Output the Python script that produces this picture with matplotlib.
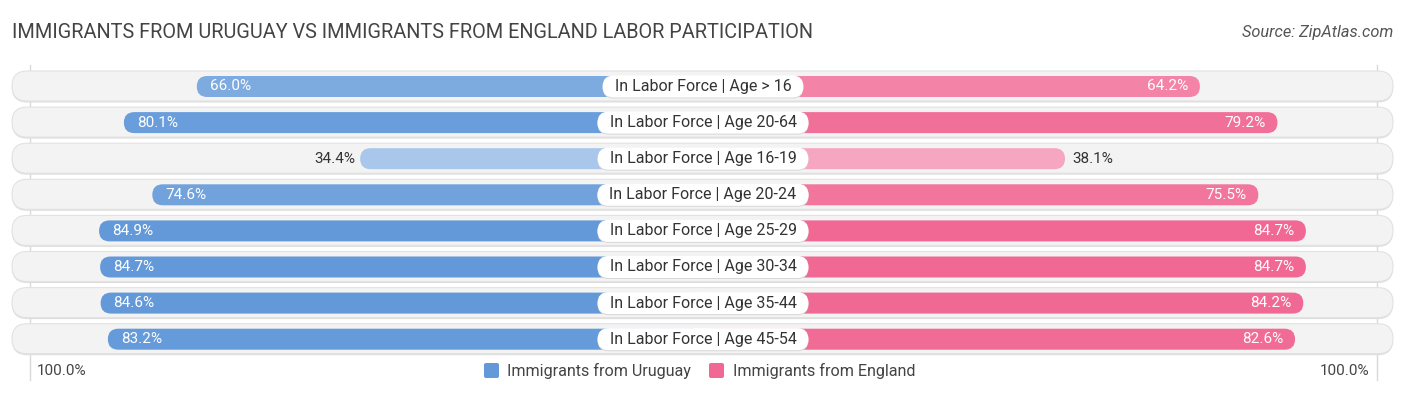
import numpy as np
import matplotlib
matplotlib.use("Agg")
import matplotlib.pyplot as plt
from matplotlib.patches import FancyBboxPatch
from matplotlib.colors import to_rgb

plt.rcParams['font.family'] = ['Roboto', 'DejaVu Sans']

categories = ['In Labor Force | Age > 16', 'In Labor Force | Age 20-64',
              'In Labor Force | Age 16-19', 'In Labor Force | Age 20-24',
              'In Labor Force | Age 25-29', 'In Labor Force | Age 30-34',
              'In Labor Force | Age 35-44', 'In Labor Force | Age 45-54']
uruguay = [66.0, 80.1, 34.4, 74.6, 84.9, 84.7, 84.6, 83.2]
england = [64.2, 79.2, 38.1, 75.5, 84.7, 84.7, 84.2, 82.6]
series_names = ['Immigrants from Uruguay', 'Immigrants from England']

blue = '#6399d9'
pink = '#f06893'

W, H = 1406, 395
fig = plt.figure(figsize=(W / 100, H / 100), dpi=100)
ax = fig.add_axes([0, 0, 1, 1])
ax.set_xlim(0, W)
ax.set_ylim(H, 0)
ax.axis('off')
renderer = fig.canvas.get_renderer()

cx = 703        # centre of the chart
off = 165       # bar origin offset (hidden behind the label)
scale = 5.17    # px per percent
row0, step = 86, 36.1


def tint(c, v):
    f = max(0.0, (85 - v) / 85 * 0.75)
    r = np.array(to_rgb(c))
    return tuple(r + (1 - r) * f)


def pill(x0, x1, yc, h, **kw):
    p = FancyBboxPatch((x0, yc - h / 2), x1 - x0, h,
                       boxstyle=f"round,pad=0,rounding_size={h / 2}", **kw)
    ax.add_patch(p)


# faint axis guide lines
ax.plot([30, 30], [65, 380], color='#d9d9d9', lw=1, zorder=0)
ax.plot([1377, 1377], [65, 380], color='#d9d9d9', lw=1, zorder=0)

for i, cat in enumerate(categories):
    y = row0 + step * i
    # row background with soft shadow
    pill(12, 1393, y + 1.5, 30, fc='#dedede', ec='none', zorder=1)
    pill(12, 1393, y, 30, fc='#f3f3f3', ec='#e2e2e2', lw=0.8, zorder=2)

    vl, vr = uruguay[i], england[i]
    xl = cx - off - scale * vl
    xr = cx + off + scale * vr
    pill(xl, cx, y + 0.5, 21, fc=tint(blue, vl), ec='none', zorder=3)
    pill(cx, xr, y + 0.5, 21, fc=tint(pink, vr), ec='none', zorder=3)

    if vl > 50:
        ax.text(xl + 13, y + 0.5, f'{vl:.1f}%', ha='left', va='center',
                fontsize=11, color='white', zorder=5)
    else:
        ax.text(xl - 5, y + 0.5, f'{vl:.1f}%', ha='right', va='center',
                fontsize=11, color='#333333', zorder=5)
    if vr > 50:
        ax.text(xr - 12, y + 0.5, f'{vr:.1f}%', ha='right', va='center',
                fontsize=11, color='white', zorder=5)
    else:
        ax.text(xr + 7, y + 0.5, f'{vr:.1f}%', ha='left', va='center',
                fontsize=11, color='#333333', zorder=5)

    # centre label pill sized to the text
    t = ax.text(cx, y + 0.5, cat, ha='center', va='center', fontsize=11.5,
                color='#333333', zorder=7)
    hw = t.get_window_extent(renderer).width / 2 + 12
    pill(cx - hw, cx + hw, y + 1.5, 22, fc='#d8d8d8', ec='none', zorder=5)
    pill(cx - hw, cx + hw, y + 0.5, 22, fc='white', ec='none', zorder=6)

# title and source
ax.text(12, 33, 'IMMIGRANTS FROM URUGUAY VS IMMIGRANTS FROM ENGLAND LABOR PARTICIPATION',
        ha='left', va='center', fontsize=14.3, color='#444444')
ax.text(1393, 33, 'Source: ZipAtlas.com', ha='right', va='center',
        fontsize=11.8, color='#555555', style='italic')

# bottom axis labels
ax.text(37, 371, '100.0%', ha='left', va='center', fontsize=11, color='#444444')
ax.text(1369, 371, '100.0%', ha='right', va='center', fontsize=11, color='#444444')

# legend
ax.add_patch(FancyBboxPatch((484, 363), 15, 15, boxstyle='round,pad=0,rounding_size=2',
                            fc=blue, ec='none'))
ax.text(507, 371, series_names[0], ha='left', va='center', fontsize=11.6, color='#444444')
ax.add_patch(FancyBboxPatch((709, 363), 15, 15, boxstyle='round,pad=0,rounding_size=2',
                            fc=pink, ec='none'))
ax.text(733, 371, series_names[1], ha='left', va='center', fontsize=11.6, color='#444444')

fig.savefig('out.png', dpi=100)
